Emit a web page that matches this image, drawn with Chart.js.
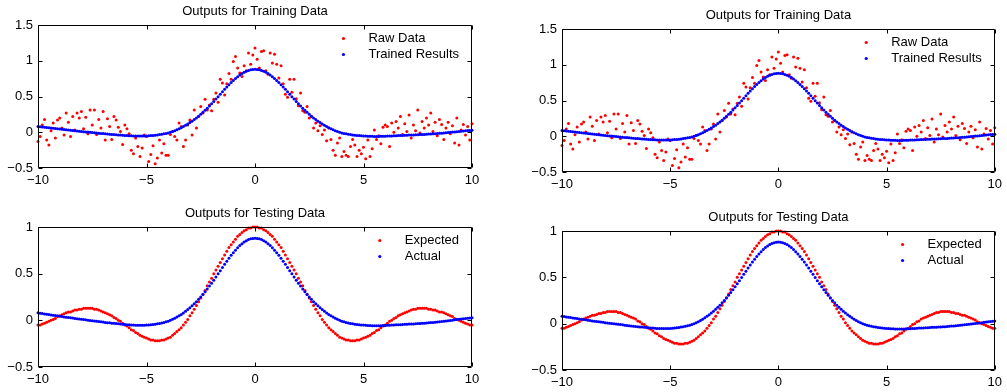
<!DOCTYPE html>
<html>
<head>
<meta charset="utf-8">
<script src="https://cdn.jsdelivr.net/npm/chart.js@4.4.1/dist/chart.umd.min.js"></script>
<style>
  body { margin: 0; background: #fff; width: 1007px; height: 392px; overflow: hidden; position: relative; }
  canvas { position: absolute; }
</style>
</head>
<body>
<canvas id="trainLeft"></canvas>
<canvas id="testLeft"></canvas>
<canvas id="trainRight"></canvas>
<canvas id="testRight"></canvas>
<script>
// sample positions on the x axis
var xValues = [
  -10,-9.9,-9.8,-9.7,-9.6,-9.5,-9.4,-9.3,-9.2,-9.1,
  -9,-8.9,-8.8,-8.7,-8.6,-8.5,-8.4,-8.3,-8.2,-8.1,
  -8,-7.9,-7.8,-7.7,-7.6,-7.5,-7.4,-7.3,-7.2,-7.1,
  -7,-6.9,-6.8,-6.7,-6.6,-6.5,-6.4,-6.3,-6.2,-6.1,
  -6,-5.9,-5.8,-5.7,-5.6,-5.5,-5.4,-5.3,-5.2,-5.1,
  -5,-4.9,-4.8,-4.7,-4.6,-4.5,-4.4,-4.3,-4.2,-4.1,
  -4,-3.9,-3.8,-3.7,-3.6,-3.5,-3.4,-3.3,-3.2,-3.1,
  -3,-2.9,-2.8,-2.7,-2.6,-2.5,-2.4,-2.3,-2.2,-2.1,
  -2,-1.9,-1.8,-1.7,-1.6,-1.5,-1.4,-1.3,-1.2,-1.1,
  -1,-0.9,-0.8,-0.7,-0.6,-0.5,-0.4,-0.3,-0.2,-0.1,
  0,
  0.1,0.2,0.3,0.4,0.5,0.6,0.7,0.8,0.9,1,
  1.1,1.2,1.3,1.4,1.5,1.6,1.7,1.8,1.9,2,
  2.1,2.2,2.3,2.4,2.5,2.6,2.7,2.8,2.9,3,
  3.1,3.2,3.3,3.4,3.5,3.6,3.7,3.8,3.9,4,
  4.1,4.2,4.3,4.4,4.5,4.6,4.7,4.8,4.9,5,
  5.1,5.2,5.3,5.4,5.5,5.6,5.7,5.8,5.9,6,
  6.1,6.2,6.3,6.4,6.5,6.6,6.7,6.8,6.9,7,
  7.1,7.2,7.3,7.4,7.5,7.6,7.7,7.8,7.9,8,
  8.1,8.2,8.3,8.4,8.5,8.6,8.7,8.8,8.9,9,
  9.1,9.2,9.3,9.4,9.5,9.6,9.7,9.8,9.9,10
];

// noisy training targets (red, top plots)
var rawData = [
  -0.13,-0.06,0.10,0.18,-0.11,-0.18,0.02,0.13,-0.08,0.17,
  0.20,0.06,-0.04,0.27,0.14,-0.06,0.22,0.03,0.27,0.20,
  0.29,0.05,0.21,-0.02,0.31,0.10,0.31,-0.03,0.18,0.06,
  0.29,-0.11,0.19,0.08,-0.10,0.22,0.17,0.07,0.01,-0.17,
  0.10,0.05,-0.02,-0.25,-0.30,-0.08,-0.20,-0.34,-0.22,-0.04,
  -0.06,-0.41,-0.31,-0.19,-0.44,-0.36,-0.11,-0.29,-0.16,-0.32,
  -0.32,-0.03,0.01,-0.06,-0.11,0.13,0.08,-0.20,-0.11,0.10,
  0.17,-0.04,0.31,0.06,0.22,0.36,0.27,0.46,0.31,0.38,
  0.30,0.46,0.55,0.42,0.74,0.69,0.52,0.68,0.82,0.74,
  0.99,1.06,0.90,0.83,0.78,0.93,0.86,1.11,0.95,1.08,
  1.18,
  1.02,0.90,1.13,1.14,0.86,0.81,1.11,0.97,1.09,0.95,
  0.76,0.93,0.68,0.53,0.49,0.74,0.56,0.74,0.47,0.37,
  0.55,0.30,0.28,0.36,0.20,0.22,0.06,0.13,0.02,0.09,
  -0.03,0.03,-0.12,0.06,-0.10,-0.25,-0.32,-0.15,-0.08,-0.34,
  -0.27,-0.32,-0.34,-0.20,-0.10,-0.18,-0.34,-0.25,-0.30,-0.21,
  -0.37,-0.11,-0.34,-0.23,0.03,-0.10,-0.05,-0.16,0.07,0.10,
  0.08,-0.20,0.13,0.00,0.15,0.06,0.22,-0.03,0.12,0.01,
  0.24,-0.08,0.10,0.02,0.31,-0.01,0.15,0.06,0.20,0.10,
  0.27,0.01,0.14,-0.05,0.18,0.11,-0.10,0.06,0.14,-0.02,
  0.09,-0.15,0.20,-0.18,0.03,0.11,-0.04,0.08,-0.11,0.12
];

// expected test outputs (red, bottom plots)
var expected = [
  -0.05,-0.05,-0.04,-0.03,-0.02,-0.01,0.00,0.01,0.02,0.04,
  0.05,0.06,0.07,0.08,0.09,0.09,0.10,0.11,0.11,0.12,
  0.12,0.13,0.13,0.13,0.13,0.13,0.12,0.12,0.11,0.10,
  0.09,0.08,0.07,0.06,0.05,0.03,0.02,0.00,-0.01,-0.03,
  -0.05,-0.06,-0.08,-0.10,-0.11,-0.13,-0.14,-0.16,-0.17,-0.18,
  -0.19,-0.20,-0.21,-0.21,-0.22,-0.22,-0.22,-0.21,-0.21,-0.20,
  -0.19,-0.18,-0.16,-0.14,-0.12,-0.10,-0.08,-0.05,-0.02,0.01,
  0.05,0.08,0.12,0.16,0.20,0.24,0.28,0.32,0.37,0.41,
  0.45,0.50,0.54,0.58,0.62,0.66,0.70,0.74,0.78,0.81,
  0.84,0.87,0.90,0.92,0.94,0.96,0.97,0.99,0.99,1.00,
  1.00,
  1.00,0.99,0.99,0.97,0.96,0.94,0.92,0.90,0.87,0.84,
  0.81,0.78,0.74,0.70,0.66,0.62,0.58,0.54,0.50,0.45,
  0.41,0.37,0.32,0.28,0.24,0.20,0.16,0.12,0.08,0.05,
  0.01,-0.02,-0.05,-0.08,-0.10,-0.12,-0.14,-0.16,-0.18,-0.19,
  -0.20,-0.21,-0.21,-0.22,-0.22,-0.22,-0.21,-0.21,-0.20,-0.19,
  -0.18,-0.17,-0.16,-0.14,-0.13,-0.11,-0.10,-0.08,-0.06,-0.05,
  -0.03,-0.01,0.00,0.02,0.03,0.05,0.06,0.07,0.08,0.09,
  0.10,0.11,0.12,0.12,0.13,0.13,0.13,0.13,0.13,0.12,
  0.12,0.11,0.11,0.10,0.09,0.09,0.08,0.07,0.06,0.05,
  0.04,0.02,0.01,0.00,-0.01,-0.02,-0.03,-0.04,-0.05,-0.05
];

// network output (blue, all plots)
var networkOut = [
  0.080,0.076,0.073,0.069,0.066,0.062,0.058,0.055,0.051,0.048,
  0.044,0.041,0.037,0.034,0.030,0.027,0.024,0.020,0.017,0.014,
  0.011,0.008,0.005,0.002,-0.001,-0.004,-0.007,-0.010,-0.013,-0.016,
  -0.019,-0.022,-0.025,-0.027,-0.030,-0.032,-0.035,-0.037,-0.040,-0.042,
  -0.044,-0.046,-0.048,-0.050,-0.051,-0.052,-0.053,-0.053,-0.053,-0.052,
  -0.051,-0.049,-0.047,-0.044,-0.041,-0.037,-0.033,-0.028,-0.022,-0.016,
  -0.009,0.000,0.011,0.022,0.035,0.048,0.063,0.079,0.097,0.115,
  0.135,0.155,0.177,0.200,0.225,0.251,0.278,0.306,0.336,0.367,
  0.398,0.430,0.464,0.498,0.532,0.566,0.600,0.634,0.665,0.696,
  0.725,0.752,0.777,0.801,0.821,0.839,0.853,0.865,0.873,0.878,
  0.880,
  0.878,0.873,0.865,0.853,0.839,0.821,0.801,0.777,0.752,0.725,
  0.696,0.665,0.634,0.600,0.566,0.532,0.498,0.464,0.430,0.398,
  0.367,0.336,0.306,0.278,0.251,0.225,0.200,0.177,0.155,0.135,
  0.115,0.097,0.079,0.063,0.048,0.035,0.022,0.011,0.000,-0.009,
  -0.016,-0.022,-0.028,-0.033,-0.037,-0.041,-0.044,-0.047,-0.049,-0.051,
  -0.053,-0.055,-0.056,-0.057,-0.058,-0.058,-0.058,-0.057,-0.056,-0.055,
  -0.054,-0.052,-0.051,-0.050,-0.048,-0.047,-0.046,-0.044,-0.043,-0.042,
  -0.040,-0.039,-0.038,-0.036,-0.035,-0.033,-0.032,-0.030,-0.028,-0.026,
  -0.024,-0.022,-0.020,-0.018,-0.015,-0.013,-0.010,-0.007,-0.004,-0.001,
  0.002,0.005,0.008,0.011,0.014,0.017,0.020,0.023,0.026,0.028
];

var xTicks = [-10, -5, 0, 5, 10];
var yTicksTrain = [-0.5, 0, 0.5, 1, 1.5];
var yTicksTest = [-0.5, 0, 0.5, 1];

var FONT = '"Liberation Sans", Arial, Helvetica, sans-serif';

function pts(ys) {
  return xValues.map(function(x, i) { return { x: x, y: ys[i] }; });
}

function fmt(v) {
  return v < 0 ? '\u2212' + Math.abs(v) : String(v);
}

// matlab style box, inward ticks, title and legend inside the axes
var axesBox = {
  id: 'axesBox',
  afterDraw: function(chart, args, opts) {
    var ctx = chart.ctx, a = chart.chartArea;
    var xs = chart.scales.x, ys = chart.scales.y;
    var L = Math.round(a.left) + 0.5, R = Math.round(a.right) - 0.5;
    var T = Math.round(a.top) + 0.5, B = Math.round(a.bottom) - 0.5;
    ctx.save();
    ctx.strokeStyle = '#000';
    ctx.lineWidth = 1;
    ctx.beginPath();
    ctx.rect(L, T, R - L, B - T);
    xs.ticks.forEach(function(t) {
      var px = Math.round(xs.getPixelForValue(t.value)) + 0.5;
      ctx.moveTo(px, B); ctx.lineTo(px, B - 4);
      ctx.moveTo(px, T); ctx.lineTo(px, T + 4);
    });
    ys.ticks.forEach(function(t) {
      var py = Math.round(ys.getPixelForValue(t.value)) + 0.5;
      ctx.moveTo(L, py); ctx.lineTo(L + 4, py);
      ctx.moveTo(R, py); ctx.lineTo(R - 4, py);
    });
    ctx.stroke();

    ctx.fillStyle = '#000';
    ctx.font = '13px ' + FONT;
    ctx.textAlign = 'center';
    ctx.textBaseline = 'alphabetic';
    ctx.fillText(opts.title, (a.left + a.right) / 2, a.top - 10.5);

    var sets = chart.data.datasets;
    var w = 0;
    sets.forEach(function(d) { w = Math.max(w, ctx.measureText(d.label).width); });
    var tx = a.right - 13 - w;
    ctx.textAlign = 'left';
    ctx.textBaseline = 'middle';
    sets.forEach(function(d, i) {
      var y = a.top + 13.5 + 16 * i;
      ctx.fillStyle = d.backgroundColor;
      ctx.beginPath();
      ctx.arc(tx - 25, y, 1.6, 0, Math.PI * 2);
      ctx.fill();
      ctx.fillStyle = '#000';
      ctx.fillText(d.label, tx, y);
    });
    ctx.restore();
  }
};

function makeChart(id, box, area, title, sets, yTicks) {
  var cv = document.getElementById(id);
  cv.width = box.w; cv.height = box.h;
  cv.style.left = box.x + 'px';
  cv.style.top = box.y + 'px';
  var tickFont = { family: FONT, size: 13 };
  return new Chart(cv, {
    type: 'scatter',
    data: {
      datasets: sets.map(function(s) {
        return {
          label: s.label, data: pts(s.values),
          backgroundColor: s.color, borderWidth: 0,
          pointRadius: 1.5, pointHoverRadius: 1.5,
          order: s.order, clip: false
        };
      })
    },
    options: {
      responsive: false, animation: false, devicePixelRatio: 1,
      events: [],
      layout: { padding: { left: 0, bottom: 0, top: area.t - box.y, right: box.x + box.w - area.r } },
      plugins: {
        legend: { display: false },
        title: { display: false },
        tooltip: { enabled: false },
        axesBox: { title: title }
      },
      scales: {
        x: {
          type: 'linear', min: xTicks[0], max: xTicks[xTicks.length - 1],
          afterBuildTicks: function(s) { s.ticks = xTicks.map(function(v) { return { value: v }; }); },
          ticks: { color: '#000', font: tickFont, padding: 5, maxRotation: 0, autoSkip: false, callback: fmt },
          grid: { display: false, drawTicks: false },
          border: { display: false },
          afterFit: function(s) { s.height = box.y + box.h - area.b; }
        },
        y: {
          type: 'linear', min: yTicks[0], max: yTicks[yTicks.length - 1],
          afterBuildTicks: function(s) { s.ticks = yTicks.map(function(v) { return { value: v }; }); },
          ticks: { color: '#000', font: tickFont, padding: 5, autoSkip: false, callback: fmt },
          grid: { display: false, drawTicks: false },
          border: { display: false },
          afterFit: function(s) { s.width = area.l - box.x; }
        }
      }
    },
    plugins: [axesBox]
  });
}

var trainSets = [
  { label: 'Raw Data', values: rawData, color: '#ff0000', order: 1 },
  { label: 'Trained Results', values: networkOut, color: '#0000ff', order: 0 }
];
var testSets = [
  { label: 'Expected', values: expected, color: '#ff0000', order: 1 },
  { label: 'Actual', values: networkOut, color: '#0000ff', order: 0 }
];

makeChart('trainLeft', { x: 0, y: 0, w: 495, h: 194 }, { l: 38, t: 25, r: 472, b: 168 },
  'Outputs for Training Data', trainSets, yTicksTrain);
makeChart('testLeft', { x: 0, y: 194, w: 495, h: 198 }, { l: 38, t: 227, r: 472, b: 367 },
  'Outputs for Testing Data', testSets, yTicksTest);
makeChart('trainRight', { x: 505, y: 0, w: 502, h: 194 }, { l: 562, t: 29, r: 997, b: 172 },
  'Outputs for Training Data', trainSets, yTicksTrain);
makeChart('testRight', { x: 505, y: 194, w: 502, h: 198 }, { l: 562, t: 231, r: 997, b: 370 },
  'Outputs for Testing Data', testSets, yTicksTest);
</script>
</body>
</html>
